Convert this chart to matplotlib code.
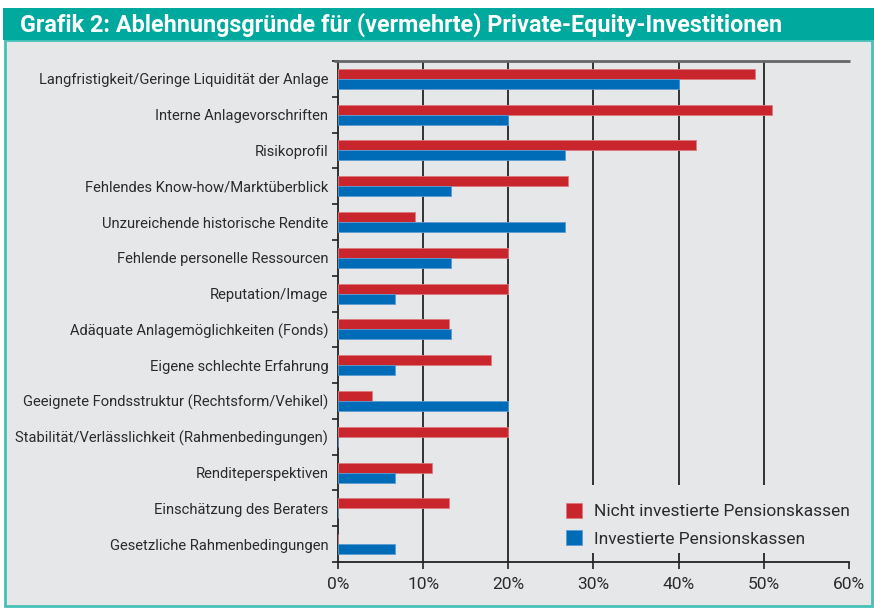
import matplotlib
matplotlib.use('Agg')
import matplotlib.pyplot as plt
from matplotlib.patches import Rectangle
from matplotlib.ticker import FixedLocator
import numpy as np

categories = [
    "Langfristigkeit/Geringe Liquidität der Anlage",
    "Interne Anlagevorschriften",
    "Risikoprofil",
    "Fehlendes Know-how/Marktüberblick",
    "Unzureichende historische Rendite",
    "Fehlende personelle Ressourcen",
    "Reputation/Image",
    "Adäquate Anlagemöglichkeiten (Fonds)",
    "Eigene schlechte Erfahrung",
    "Geeignete Fondsstruktur (Rechtsform/Vehikel)",
    "Stabilität/Verlässlichkeit (Rahmenbedingungen)",
    "Renditeperspektiven",
    "Einschätzung des Beraters",
    "Gesetzliche Rahmenbedingungen",
]
nicht_investiert = [49, 51, 42, 27, 9, 20, 20, 13, 18, 4, 20, 11, 13, 0]
investiert = [40, 20, 26.7, 13.3, 26.7, 13.3, 6.7, 13.3, 6.7, 20, 0, 6.7, 0, 6.7]
series_labels = ["Nicht investierte Pensionskassen", "Investierte Pensionskassen"]
xtick_values = [0, 10, 20, 30, 40, 50, 60]
xtick_labels = ["0%", "10%", "20%", "30%", "40%", "50%", "60%"]
title = "Grafik 2: Ablehnungsgründe für (vermehrte) Private-Equity-Investitionen"

RED = "#C9252C"
BLUE = "#006BB6"
BG = "#E6E7E9"
TEAL = "#00A99D"
TEXT = "#2b2b2b"

plt.rcParams['font.family'] = ['Roboto', 'DejaVu Sans']

W, H = 874, 608
fig = plt.figure(figsize=(W / 100, H / 100), dpi=100)
fig.patch.set_facecolor('white')

# grey panel with teal border
fig.patches.append(Rectangle((5 / W, 2 / H), (872 - 5) / W, (568 - 2) / H,
                             transform=fig.transFigure, facecolor=BG,
                             edgecolor='#45C1B8', lw=2, zorder=-2))
# title bar
fig.patches.append(Rectangle((3 / W, (H - 40) / H), (W - 3) / W, 32 / H,
                             transform=fig.transFigure, facecolor=TEAL,
                             edgecolor='none', zorder=-1))
fig.text(20 / W, 1 - 24.5 / H, title, color='white', fontsize=16.8,
         fontweight='bold', va='center', ha='left', zorder=2)

left, right, top, bottom = 338, 849, 61, 562
ax = fig.add_axes([left / W, 1 - bottom / H, (right - left) / W, (bottom - top) / H])
ax.set_zorder(5)
ax.set_facecolor(BG)
ax.patch.set_alpha(0)

y = np.arange(len(categories))
h = 0.28
ax.barh(y - 0.14, nicht_investiert, height=h, color=RED, edgecolor='#dc7a7f',
        linewidth=0.6, zorder=3, label=series_labels[0])
ax.barh(y + 0.14, investiert, height=h, color=BLUE, edgecolor='#5a9bd0',
        linewidth=0.6, zorder=3, label=series_labels[1])

ax.set_xlim(0, 60)
ax.set_ylim(len(categories) - 0.5, -0.5)

for xv in xtick_values[1:-1]:
    ax.axvline(xv, color='#333333', lw=1.4, zorder=1)

# top rule slightly extended to the left like the reference
ax.plot([-0.5, 60.1], [-0.5, -0.5], color='#666666', lw=2, clip_on=False, zorder=4,
        solid_capstyle='butt')

ax.set_yticks(y)
ax.set_yticklabels(categories, fontsize=10.6, color=TEXT)
ax.tick_params(axis='y', which='major', length=0, pad=7)
ax.yaxis.set_minor_locator(FixedLocator(np.arange(-0.5, len(categories), 1.0)))
ax.tick_params(axis='y', which='minor', length=4, width=1.2, color='#222222')

ax.set_xticks(xtick_values)
ax.set_xticklabels(xtick_labels, fontsize=12.5, color=TEXT)
ax.tick_params(axis='x', length=5, width=1.2, color='#222222', pad=6)

ax.spines['right'].set_visible(False)
ax.spines['top'].set_visible(False)
ax.spines['left'].set_color('#222222')
ax.spines['left'].set_linewidth(1.3)
ax.spines['bottom'].set_color('#222222')
ax.spines['bottom'].set_linewidth(1.3)

# mask behind legend
ax.add_patch(Rectangle(((545 - left) / (right - left), (bottom - 553) / (bottom - top)),
                       (right - 545) / (right - left), (553 - 485) / (bottom - top),
                       transform=ax.transAxes, facecolor=BG, edgecolor='none', zorder=2))

leg = ax.legend(loc='upper left', bbox_to_anchor=((566 - left) / (right - left), (bottom - 503) / (bottom - top)),
                frameon=False, fontsize=12.5, handlelength=0.95, handleheight=0.95,
                handletextpad=0.65, labelspacing=0.62, borderaxespad=0, borderpad=0)
for t in leg.get_texts():
    t.set_color(TEXT)

fig.savefig('out.png', dpi=100, facecolor=fig.get_facecolor())
